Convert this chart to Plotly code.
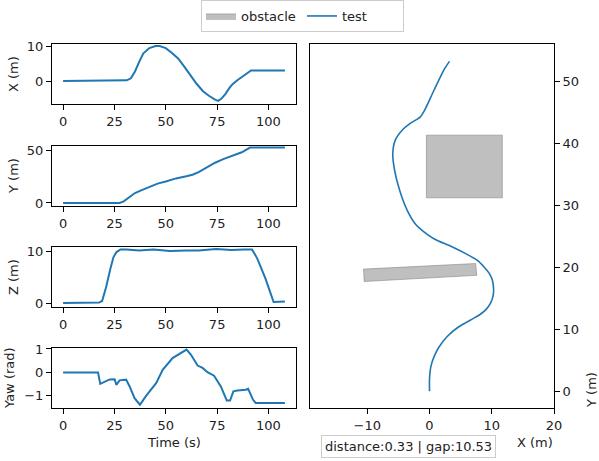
import plotly.graph_objects as go

# time series
t_x = [0, 25, 31, 33, 35, 37, 39, 42, 45, 47, 50, 53, 56, 59, 62, 65, 68, 71, 74, 75.5, 77, 79, 81, 82.5, 85, 88, 91.5, 108]
pos_x = [0, 0, 0.2, 0.8, 2.8, 5.5, 8.0, 9.6, 10.2, 10.2, 9.6, 8.2, 6.6, 4.2, 1.7, -0.8, -2.9, -4.3, -5.4, -5.8, -5.2, -3.8, -2.0, -0.9, 0.3, 1.7, 3.1, 3.1]

t_y = [0, 27.5, 29.5, 32, 35, 38, 42, 46, 50, 55, 60, 63, 66, 70, 74, 78, 81, 84, 87, 91, 108]
pos_y = [0, 0, 1.5, 5, 9.5, 12, 15.5, 18.5, 20.5, 23.5, 25.5, 27, 29.5, 34, 38.5, 42, 44, 45.8, 48.5, 53, 53]

t_z = [0, 17.5, 19, 21, 23, 24.5, 26, 28, 31, 37, 44, 52, 60, 66, 74.5, 82, 88, 92, 94.5, 98.5, 102.5, 108]
pos_z = [0.1, 0.2, 0.5, 3.2, 6.6, 8.8, 9.8, 10.3, 10.3, 10.1, 10.3, 10.0, 10.1, 10.1, 10.4, 10.2, 10.3, 10.3, 8.6, 4.8, 0.3, 0.4]

t_yaw = [0, 17, 18.1, 20.2, 22.7, 25.1, 25.9, 27.5, 30.7, 32.4, 34.8, 37.4, 40.4, 45.3, 48.5, 53.3, 57.4, 60.1,
         62.2, 65.5, 67.9, 70.3, 73.5, 76.8, 79.7, 81.3, 82.9, 84.9, 88.9, 90.1, 92.5, 93.8, 108]
yaw = [0, 0, -0.49, -0.39, -0.3, -0.29, -0.53, -0.34, -0.31, -0.6, -1.1, -1.38, -1.0, -0.46, 0.11, 0.61, 0.83, 0.97,
       0.76, 0.29, 0.19, 0.01, -0.14, -0.6, -1.2, -1.2, -0.81, -0.77, -0.74, -0.7, -1.17, -1.31, -1.31]

# top-down path
path_x = [0, 0, 0.2, 0.7, 1.5, 2.8, 4.7, 6.6, 8.0, 9.1, 9.8, 10.2, 10.3, 10.1, 9.6, 8.8, 7.7, 5.8, 3.6, 0.7, -0.9,
          -2.3, -3.6, -4.8, -5.6, -5.9, -5.5, -4.4, -3.1, -1.5, -0.8, 0.7, 2.3, 3.2]
path_y = [0, 2, 3.9, 5.5, 7.1, 8.8, 10.4, 11.5, 12.3, 13.2, 14.2, 15.3, 16.3, 17.9, 19.0, 20.0, 21.1, 22.2, 23.3, 24.6,
          25.7, 27.0, 29.2, 32.4, 35.6, 38.3, 40.5, 42.1, 43.2, 44.2, 45.3, 48.5, 51.8, 53.2]

# obstacles
box_x = [-0.5, 11.7, 11.7, -0.5, -0.5]
box_y = [31.2, 31.2, 41.3, 41.3, 31.2]
bar_x = [-10.6, -10.5, 7.6, 7.4, -10.6]
bar_y = [19.7, 17.7, 18.7, 20.6, 19.7]

blue = '#1f77b4'
W, H = 599, 461
font = dict(family='DejaVu Sans', size=13, color='#222')

fig = go.Figure()

for ox, oy, show in [(box_x, box_y, True), (bar_x, bar_y, False)]:
	fig.add_trace(go.Scatter(
		x=ox, y=oy, mode='lines', fill='toself',
		fillcolor='rgba(128,128,128,0.5)',
		line=dict(color='rgba(128,128,128,0.55)', width=1),
		name='obstacle', legendgroup='obstacle', showlegend=show,
		xaxis='x5', yaxis='y5',
	))

fig.add_trace(go.Scatter(
	x=path_x, y=path_y, mode='lines', name='test',
	line=dict(color=blue, width=1.6, shape='spline', smoothing=0.8),
	xaxis='x5', yaxis='y5',
))

series = [(t_x, pos_x), (t_y, pos_y), (t_z, pos_z), (t_yaw, yaw)]
for i, (tt, vv) in enumerate(series):
	n = '' if i == 0 else str(i + 1)
	fig.add_trace(go.Scatter(
		x=tt, y=vv, mode='lines', showlegend=False,
		line=dict(color=blue, width=2),
		xaxis='x' + n, yaxis='y' + n,
	))

def px_x(a, b):
	return [a / W, b / W]

def px_y(top, bottom):
	return [1 - bottom / H, 1 - top / H]

base = dict(
	showline=True, linecolor='black', linewidth=1, mirror=True,
	ticks='outside', ticklen=5, tickcolor='black', tickwidth=1,
	showgrid=False, zeroline=False, tickfont=font, automargin=False,
)

left_y = [
	(44, 104, [-6.7, 10.8], 10),
	(146, 206, [-2.9, 54.5], 50),
	(247, 307, [-0.65, 10.76], 10),
	(348, 408, [-1.52, 1.04], 1),
]
layout = {}
for i, (top, bot, rng, dt) in enumerate(left_y):
	n = '' if i == 0 else str(i + 1)
	layout['xaxis' + n] = dict(base, domain=px_x(52, 296), range=[-5.4, 113.4], dtick=25,
							   tick0=0, anchor='y' + n)
	layout['yaxis' + n] = dict(base, domain=px_y(top, bot), range=rng, dtick=dt, tick0=0,
							   anchor='x' + n)

layout['xaxis5'] = dict(base, domain=px_x(310, 554), range=[-19.2, 20], dtick=10, tick0=0, anchor='y5')
layout['yaxis5'] = dict(base, domain=px_y(44, 408), range=[-2.7, 56], dtick=10, tick0=0,
						anchor='x5', side='right')

labels = [
	('X (m)', 13, 74, -90),
	('Y (m)', 13, 176, -90),
	('Z (m)', 13, 277, -90),
	('Yaw (rad)', 9, 378, -90),
	('Time (s)', 174, 442, 0),
	('X (m)', 535, 442, 0),
	('Y (m)', 591, 390, -90),
]
annotations = [
	dict(text=txt, x=ax / W, y=1 - ay / H, xref='paper', yref='paper', showarrow=False,
		 textangle=ang, font=font, xanchor='center', yanchor='middle')
	for txt, ax, ay, ang in labels
]
annotations.append(dict(
	text='distance:0.33 | gap:10.53', x=408 / W, y=1 - 446 / H, xref='paper', yref='paper',
	showarrow=False, font=font, bordercolor='#cccccc', borderwidth=1, borderpad=3,
	bgcolor='white', xanchor='center', yanchor='middle',
))

fig.update_layout(
	**layout,
	width=W, height=H,
	margin=dict(l=0, r=0, t=0, b=0),
	plot_bgcolor='white', paper_bgcolor='white',
	font=font,
	annotations=annotations,
	legend=dict(
		orientation='h', x=0.505, xanchor='center', y=1, yanchor='top',
		bordercolor='#cccccc', borderwidth=1, font=font, itemwidth=30,
		entrywidth=56, entrywidthmode='pixels',
	),
)

# page margin off so the figure sits at the window's top-left corner
fig.write_html('out.html', config={'displayModeBar': False},
			   post_script="document.body.style.margin='0';")
